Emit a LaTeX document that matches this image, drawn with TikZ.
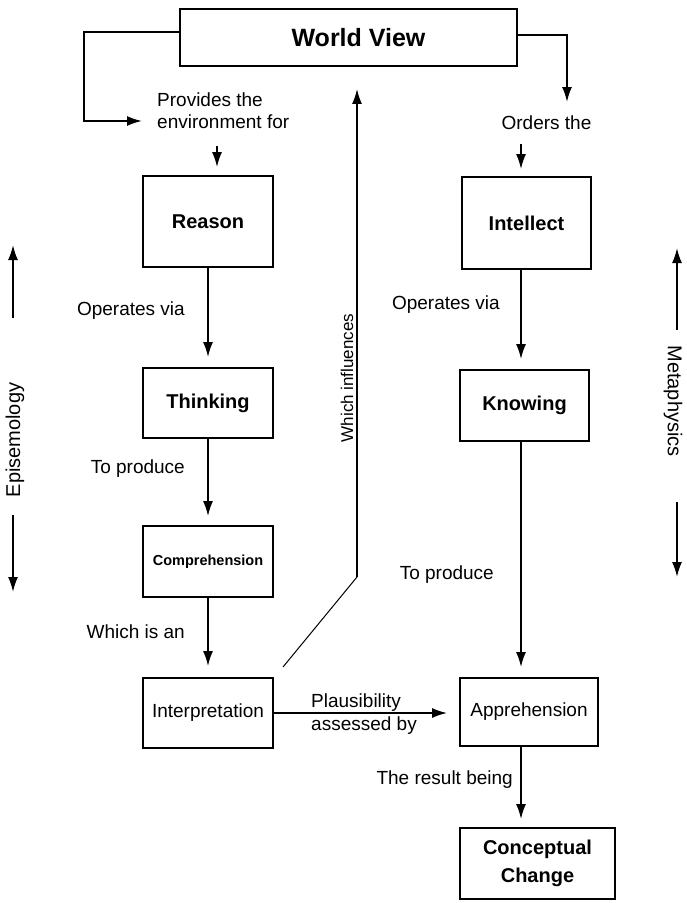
\documentclass[tikz,border=0pt]{standalone}
\usepackage{fontspec}
\setmainfont{Liberation Sans}
\usetikzlibrary{arrows.meta}
\begin{document}
\begin{tikzpicture}[x=1pt,y=-1pt,
  box/.style={draw, line width=1.8pt, inner sep=0pt, font=\fontsize{20}{22}\selectfont\bfseries},
  lbl/.style={inner sep=0pt, font=\fontsize{19}{22}\selectfont, align=left},
  arr/.style={line width=1.8pt, -{Latex[length=15pt,width=10pt]}},
  thin/.style={line width=1pt}]
\useasboundingbox (0,0) rectangle (686,903);

% boxes
\node[box, minimum width=337pt, minimum height=57pt, font=\fontsize{25}{28}\selectfont\bfseries] (wv) at (348.5,37.5) {\hspace*{20pt}World View};
\node[box, minimum width=130pt, minimum height=91pt] (reason) at (208,221.5) {Reason};
\node[box, minimum width=130pt, minimum height=70pt] (thinking) at (208,403) {Thinking};
\node[box, minimum width=130pt, minimum height=71pt, font=\fontsize{14.5}{16}\selectfont\bfseries] (comp) at (208,561.5) {Comprehension};
\node[box, minimum width=130pt, minimum height=70pt, font=\fontsize{19}{22}\selectfont] (interp) at (208,713) {Interpretation};
\node[box, minimum width=129pt, minimum height=92pt] (intellect) at (526.5,223) {Intellect};
\node[box, minimum width=129pt, minimum height=71pt] (knowing) at (524.5,405.5) {Knowing};
\node[box, minimum width=138pt, minimum height=68pt, font=\fontsize{19}{22}\selectfont] (appr) at (529,712) {Apprehension};
\node[box, minimum width=155pt, minimum height=71pt, align=center, font=\fontsize{20}{28}\selectfont\bfseries] (cc) at (537.5,863.5) {Conceptual\\Change};

% labels
\node[lbl, anchor=west, font=\fontsize{19}{22}\selectfont] (prov) at (157,111) {Provides the\\environment for};
\node[lbl] (orders) at (546.5,123) {Orders the};
\node[lbl, anchor=east] (opl) at (185,311) {Operates via};
\node[lbl, anchor=east] (tpl) at (185,469) {To produce};
\node[lbl, anchor=east] (wia) at (185,632) {Which is an};
\node[lbl, anchor=east] (opr) at (500,305) {Operates via};
\node[lbl, anchor=east] (tpr) at (494,575) {To produce};
\node[lbl, anchor=west, font=\fontsize{19}{23}\selectfont] (plaus) at (311,714) {Plausibility\\assessed by};
\node[lbl, anchor=east] (res) at (513,780) {The result being};
\node[lbl, rotate=90, font=\fontsize{17}{20}\selectfont] (wi) at (347,378) {Which influences};
\node[lbl, rotate=90, font=\fontsize{20}{22}\selectfont] (epi) at (15,440) {Episemology};
\node[lbl, rotate=-90, font=\fontsize{20}{22}\selectfont] (meta) at (673,401) {Metaphysics};

% coordinates
\coordinate (pv) at (142,121);
\coordinate (pa) at (217,146);
\coordinate (oa) at (567,102);
\coordinate (ob) at (521,144);
\coordinate (rc) at (521,0);
\coordinate (w1) at (283,667);
\coordinate (w2) at (357,577);
\coordinate (e1) at (13,318);
\coordinate (e2) at (13,245);
\coordinate (e3) at (13,515);
\coordinate (e4) at (13,592);
\coordinate (m1) at (677,330);
\coordinate (m2) at (677,248);
\coordinate (m3) at (677,502);
\coordinate (m4) at (677,577);

% connectors
\draw[arr] ([yshift=5.5pt]wv.west) -| ([xshift=-58pt]pv) -- (pv);
\draw[arr, shorten >=8pt] (pa) -- (reason.north -| pa);
\draw[arr] ([yshift=2.5pt]wv.east) -| (oa);
\draw[arr, shorten >=7pt] (ob) -- (intellect.north -| ob);
\draw[arr, shorten >=10pt] (reason) -- (thinking);
\draw[arr, shorten >=9pt] (thinking) -- (comp);
\draw[arr, shorten >=11pt] (comp) -- (interp);
\draw[arr, shorten >=12pt] (interp.east) -- (appr.west |- interp.east);
\draw[arr, shorten >=10pt] (intellect.south -| rc) -- (knowing.north -| rc);
\draw[arr, shorten >=10pt] (knowing.south -| rc) -- (appr.north -| rc);
\draw[arr, shorten >=8pt] (appr.south -| rc) -- (cc.north -| rc);
\draw[thin] (w1) -- (w2);
\draw[arr, shorten >=22pt] (w2) -- (wv.south -| w2);
\draw[arr] (e1) -- (e2);
\draw[arr] (e3) -- (e4);
\draw[arr] (m1) -- (m2);
\draw[arr] (m3) -- (m4);
\end{tikzpicture}
\end{document}
